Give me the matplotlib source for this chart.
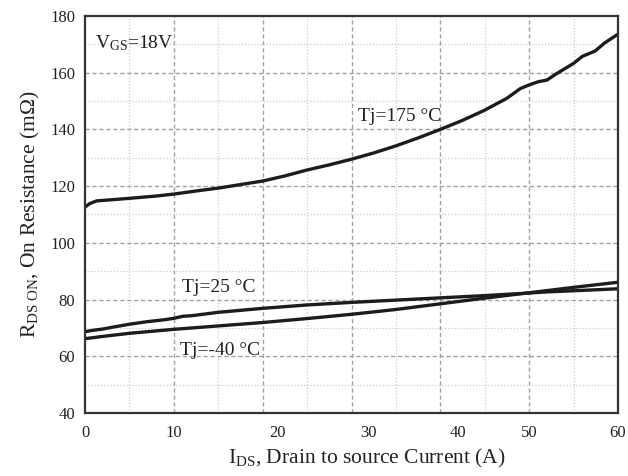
import numpy as np
import matplotlib
matplotlib.use("Agg")
import matplotlib.pyplot as plt

plt.rcParams['font.family'] = ['Liberation Serif', 'DejaVu Serif']
plt.rcParams['mathtext.fontset'] = 'custom'
plt.rcParams['mathtext.rm'] = 'Liberation Serif'
plt.rcParams['mathtext.it'] = 'Liberation Serif:italic'

# On-resistance vs drain current, VGS = 18 V
i_175 = [0, 0.5, 1.3, 3, 5, 8, 10, 13, 15, 18, 20, 22.5, 25, 27.5, 30, 32.5, 35,
         37.5, 40, 42.5, 45, 47.5, 49, 50, 51, 52, 53, 55, 56, 57.4, 58.5, 60]
r_175 = [112.6, 113.8, 114.8, 115.2, 115.7, 116.5, 117.2, 118.5, 119.3, 120.8,
         121.8, 123.6, 125.7, 127.5, 129.5, 131.7, 134.2, 137.0, 140.0, 143.2,
         146.8, 151.0, 154.4, 155.7, 156.8, 157.4, 159.5, 163.3, 165.8, 167.6,
         170.5, 173.6]

i_25 = [0, 1, 2, 3, 5, 7, 9, 10, 11, 12, 15, 20, 25, 30, 35, 40, 45, 50, 52, 55, 60]
r_25 = [68.7, 69.2, 69.6, 70.2, 71.3, 72.2, 72.9, 73.4, 74.1, 74.3, 75.5, 76.9,
        78.1, 79.0, 79.8, 80.6, 81.4, 82.3, 82.7, 83.1, 83.8]

i_m40 = [0, 2, 5, 10, 15, 20, 25, 30, 35, 40, 45, 50, 55, 60]
r_m40 = [66.2, 67.0, 68.1, 69.5, 70.7, 71.9, 73.3, 74.8, 76.5, 78.5, 80.5, 82.4,
         84.3, 86.1]

x_labels = ['0', '10', '20', '30', '40', '50', '60']
# where each x label sits along the axis
x_label_pos = [0, 10, 21.7, 31.9, 42.0, 50, 60]

fig = plt.figure(figsize=(6.28, 4.76), dpi=100)
ax = fig.add_axes([0.1354, 0.1324, 0.8487, 0.834])

# grid: dashed every 10 A / 20 mOhm, dotted in between
for xv in np.arange(5, 60, 5):
    if xv % 10 == 0:
        ax.axvline(xv, color='#a0a0a0', lw=1.0, ls=(0, (3, 2)), zorder=0)
    else:
        ax.axvline(xv, color='#cccccc', lw=0.9, ls=(0, (1, 1.5)), zorder=0)
for yv in np.arange(50, 180, 10):
    if yv % 20 == 0:
        ax.axhline(yv, color='#a0a0a0', lw=1.0, ls=(0, (3, 2)), zorder=0)
    else:
        ax.axhline(yv, color='#cccccc', lw=0.9, ls=(0, (1, 1.5)), zorder=0)

lc = '#1c1c1c'
ax.plot(i_175, r_175, color=lc, lw=2.4, solid_capstyle='butt')
ax.plot(i_25, r_25, color=lc, lw=2.4, solid_capstyle='butt')
ax.plot(i_m40, r_m40, color=lc, lw=2.4, solid_capstyle='butt')

ax.set_xlim(0, 60)
ax.set_ylim(40, 180)
ax.set_xticks(x_label_pos)
ax.set_xticklabels(x_labels)
ax.set_yticks(np.arange(40, 181, 20))
ax.tick_params(axis='both', length=0, labelsize=12, colors='#222222')
ax.tick_params(axis='x', pad=9)
ax.tick_params(axis='y', pad=7)

for s in ax.spines.values():
    s.set_linewidth(1.6)
    s.set_color('#333333')

ax.set_xlabel(r'I$_{\mathrm{DS}}$, Drain to source Current (A)', fontsize=15.5,
              color='#222222')
ax.xaxis.set_label_coords(0.529, -0.085)
ax.set_ylabel(r'R$_{\mathrm{DS\ ON}}$, On Resistance (m$\Omega$)', fontsize=15.5,
              color='#222222', labelpad=6)

ax.text(1.1, 170.5, r'V$_{\mathrm{GS}}$=18V', fontsize=14, va='center', color='#222222')
ax.text(30.7, 144.4, 'Tj=175 °C', fontsize=14, va='center', color='#222222')
ax.text(10.9, 84.4, 'Tj=25 °C', fontsize=14, va='center', color='#222222')
ax.text(10.7, 62.2, 'Tj=-40 °C', fontsize=14, va='center', color='#222222')

fig.savefig('out.png', dpi=100)
